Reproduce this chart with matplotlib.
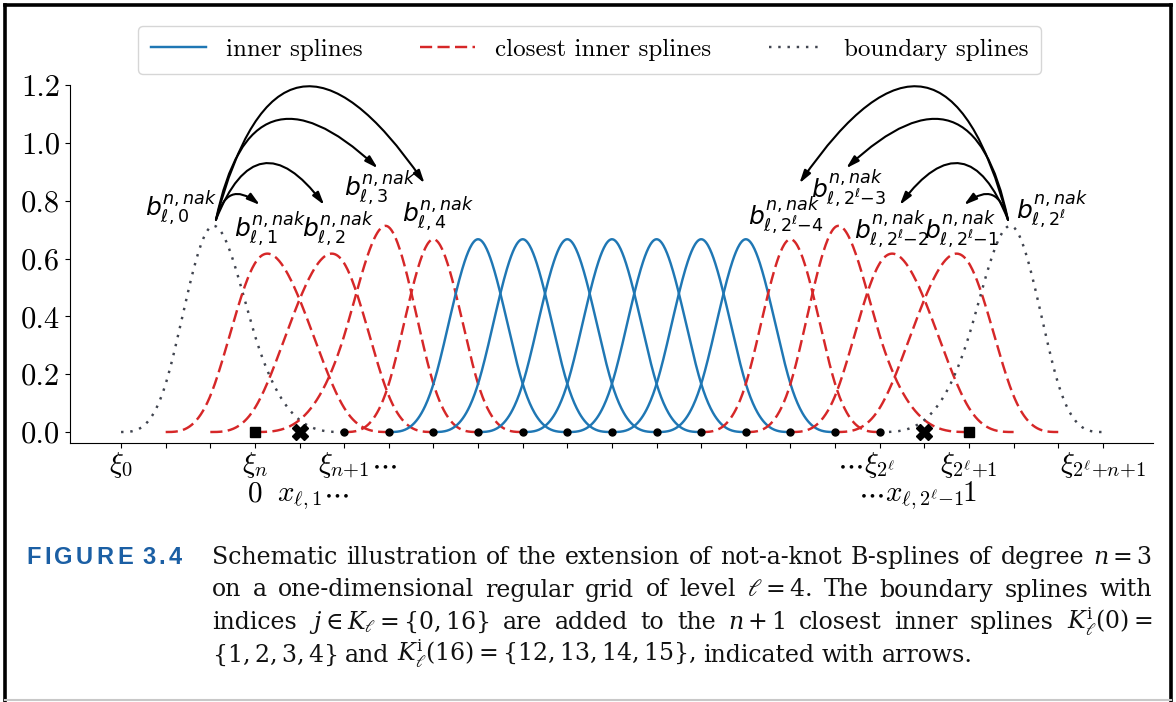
import re
import numpy as np
import matplotlib
matplotlib.use('Agg')
import matplotlib.pyplot as plt
from matplotlib.lines import Line2D

plt.rcParams['font.family'] = ['cmr10', 'DejaVu Serif']
plt.rcParams['mathtext.fontset'] = 'cm'
plt.rcParams['axes.formatter.use_mathtext'] = True
plt.rcParams['axes.unicode_minus'] = False

# ---------------------------------------------------------------- data
degree = 3   # n
level = 4    # l  -> 2**level = 16 intervals, h = 1/16
# not-a-knot knot sequence xi_0 .. xi_20 in multiples of h
knot_idx = [-3, -2, -1, 0, 2, 3, 4, 5, 6, 7, 8, 9, 10, 11, 12, 13, 14, 16, 17, 18, 19]
boundary_idx = [0, 16]
closest_idx = [1, 2, 3, 4, 12, 13, 14, 15]
inner_idx = [5, 6, 7, 8, 9, 10, 11]

# grid points marked on the axis (multiples of h)
dot_points = [2, 3, 4, 5, 6, 7, 8, 9, 10, 11, 12, 13, 14]
square_points = [0, 16]
cross_points = [1, 15]
tick_idx = list(range(-3, 20))

ytick_vals = [0.0, 0.2, 0.4, 0.6, 0.8, 1.0, 1.2]
ytick_labels = ['0.0', '0.2', '0.4', '0.6', '0.8', '1.0', '1.2']

# x-axis labels: grid index, text, row (0 = knots, 1 = grid points), where the dots go
xlabel_idx = [-3, 0, 2, 14, 16, 19, 0, 1, 15, 16]
xlabel_text = [r'$\xi_0$', r'$\xi_n$', r'$\xi_{n{+}1}$', r'$\xi_{2^\ell}$',
               r'$\xi_{2^\ell{+}1}$', r'$\xi_{2^\ell{+}n{+}1}$',
               r'$0$', r'$x_{\ell,1}$', r'$x_{\ell,2^\ell{-}1}$', r'$1$']
xlabel_row = [0, 0, 0, 0, 0, 0, 1, 1, 1, 1]
xlabel_dots = ['', '', 'right', 'left', '', '', '', 'right', 'left', '']

# spline labels and where they sit
label_idx = [0, 1, 2, 3, 4, 12, 13, 14, 15, 16]
label_text = [r'$b^{n,nak}_{\ell,0}$', r'$b^{n,nak}_{\ell,1}$', r'$b^{n,nak}_{\ell,2}$',
              r'$b^{n,nak}_{\ell,3}$', r'$b^{n,nak}_{\ell,4}$',
              r'$b^{n,nak}_{\ell,2^\ell{-}4}$', r'$b^{n,nak}_{\ell,2^\ell{-}3}$',
              r'$b^{n,nak}_{\ell,2^\ell{-}2}$', r'$b^{n,nak}_{\ell,2^\ell{-}1}$',
              r'$b^{n,nak}_{\ell,2^\ell}$']
label_x = [-0.104, 0.021, 0.116, 0.176, 0.256, 0.744, 0.832, 0.892, 0.990, 1.116]
label_y = [0.772, 0.702, 0.699, 0.844, 0.754, 0.751, 0.844, 0.702, 0.702, 0.772]

# arrows: boundary spline -> closest inner splines
arrow_from = [0, 0, 0, 0, 16, 16, 16, 16]
arrow_to = [1, 2, 3, 4, 15, 14, 13, 12]
arrow_start = [(-0.0546, 0.734)] * 4 + [(1.0546, 0.734)] * 4
arrow_end = [(0.007, 0.785), (0.097, 0.785), (0.172, 0.912), (0.2375, 0.860),
             (0.993, 0.785), (0.903, 0.785), (0.828, 0.912), (0.7625, 0.860)]
arrow_rad = [-0.76, -0.89, -0.89, -1.09, 0.76, 0.89, 0.89, 1.09]

caption_lines = [
    r'Schematic illustration of the extension of not-a-knot B-splines of degree $n=3$',
    r'on a one-dimensional regular grid of level $\ell=4$.  The boundary splines with',
    r'indices $j\in K_\ell=\{0,16\}$ are added to the $n+1$ closest inner splines $K_\ell^{\mathrm{i}}(0)=$',
    r'$\{1,2,3,4\}$ and $K_\ell^{\mathrm{i}}(16)=\{12,13,14,15\}$, indicated with arrows.',
]

BLUE = '#1f77b4'
RED = '#d62728'
GREY = '#40444f'


def bspline(t, x):
    """Cox-de Boor recursion for the B-spline on knots t."""
    B = [((x >= t[i]) & (x < t[i + 1])).astype(float) for i in range(len(t) - 1)]
    for k in range(1, len(t) - 1):
        B = [(x - t[i]) / (t[i + k] - t[i]) * B[i]
             + (t[i + k + 1] - x) / (t[i + k + 1] - t[i + 1]) * B[i + 1]
             for i in range(len(B) - 1)]
    return B[0]


W, H = 1176, 702
fig = plt.figure(figsize=(W / 100, H / 100), dpi=100)
ax = fig.add_axes([70 / W, 1 - 443 / H, (1153 - 70) / W, (443 - 85) / H])
r = fig.canvas.get_renderer()

h = 2.0 ** -level
knots = np.array(knot_idx) * h

styles = {}
for j in inner_idx:
    styles[j] = dict(color=BLUE, lw=1.75, ls='-')
for j in closest_idx:
    styles[j] = dict(color=RED, lw=1.75, ls=(0, (5, 2.2)))
for j in boundary_idx:
    styles[j] = dict(color=GREY, lw=1.75, ls=(0, (1, 2.8)))

for j in sorted(styles):
    t = knots[j:j + degree + 2]
    xx = np.linspace(t[0], t[-1], 300)
    ax.plot(xx, bspline(t, xx), **styles[j])

ax.plot(np.array(dot_points) * h, np.zeros(len(dot_points)), 'o', color='k', ms=5, zorder=5)
ax.plot(np.array(square_points) * h, np.zeros(len(square_points)), 's', color='k', ms=7, zorder=5)
ax.plot(np.array(cross_points) * h, np.zeros(len(cross_points)), 'X', color='k', ms=12, zorder=5)

ax.set_xlim(-0.259, 1.2577)
ax.set_ylim(-0.038, 1.2)
ax.spines['top'].set_visible(False)
ax.spines['right'].set_visible(False)
ax.set_xticks(np.array(tick_idx) * h)
ax.tick_params(axis='x', labelbottom=False)
ax.set_yticks(ytick_vals)
ax.set_yticklabels(ytick_labels, fontsize=22)

# x labels below the axis, dots hang off without shifting the centring
row_offset = [-21.0, -42.0]
for idx, txt, row, dots in zip(xlabel_idx, xlabel_text, xlabel_row, xlabel_dots):
    x = idx * h
    t = ax.annotate(txt, xy=(x, 0), xycoords=('data', 'axes fraction'),
                    xytext=(0, row_offset[row]), textcoords='offset points',
                    ha='center', va='baseline', fontsize=21)
    if dots:
        w = t.get_window_extent(r).width * 72 / fig.dpi
        sign = 1 if dots == 'right' else -1
        ax.annotate(r'$\cdots$', xy=(x, 0), xycoords=('data', 'axes fraction'),
                    xytext=(sign * (w / 2 + 1), row_offset[row]), textcoords='offset points',
                    ha='left' if dots == 'right' else 'right', va='baseline', fontsize=21)

for txt, lx, ly in zip(label_text, label_x, label_y):
    ax.text(lx, ly, txt, ha='center', va='center', fontsize=18,
            math_fontfamily='dejavusans')

for s, e, rad in zip(arrow_start, arrow_end, arrow_rad):
    ax.annotate('', xy=e, xytext=s,
                arrowprops=dict(arrowstyle='-|>,head_length=0.45,head_width=0.13',
                                connectionstyle=f'arc3,rad={rad}', color='k', lw=1.5,
                                shrinkA=0, shrinkB=0, mutation_scale=17))

handles = [Line2D([], [], **styles[inner_idx[0]]),
           Line2D([], [], **styles[closest_idx[0]]),
           Line2D([], [], **styles[boundary_idx[0]])]
fig.legend(handles, ['inner splines', 'closest inner splines', 'boundary splines'],
           loc='upper center', bbox_to_anchor=(589.5 / W, 1 - 26 / H), ncol=3,
           fontsize=18, handlelength=2.2, borderaxespad=0, columnspacing=2.3,
           borderpad=0.5)

# caption ------------------------------------------------------------
cap_kw = dict(fontsize=17, family='DejaVu Serif', math_fontfamily='dejavuserif', color='#111111')


def place_words(line, x0, x1, y, justify=True):
    words = re.findall(r'(?:\$[^$]*\$|[^\s$])+', line)
    texts = [fig.text(0, 1 - y / H, w, ha='left', va='baseline', **cap_kw) for w in words]
    widths = [t.get_window_extent(r).width for t in texts]
    a = fig.text(0, 0, 'n n', **cap_kw)
    b = fig.text(0, 0, 'nn', **cap_kw)
    gap = a.get_window_extent(r).width - b.get_window_extent(r).width
    a.remove()
    b.remove()
    if justify:
        gap = (x1 - x0 - sum(widths)) / (len(words) - 1)
    pos = x0
    for t, w in zip(texts, widths):
        t.set_x(pos / W)
        pos += w + gap


baselines = [564, 596.5, 629, 661.5]
for i, line in enumerate(caption_lines):
    place_words(line, 212, 1152, baselines[i], justify=i < len(caption_lines) - 1)

# "FIGURE 3.4" with letter spacing
fig_kw = dict(fontsize=17, family='Liberation Sans', weight='bold', color='#1b5fa4')
chars = list('FIGURE 3.4')
ctexts = [fig.text(0, 1 - 564 / H, c, ha='left', va='baseline', **fig_kw) for c in chars if c != ' ']
cw = [t.get_window_extent(r).width for t in ctexts]
space_w = 6.0
track = (182 - 26 - sum(cw) - space_w) / (len(ctexts) - 1)
pos = 26
k = 0
for c in chars:
    if c == ' ':
        pos += space_w
        continue
    ctexts[k].set_x(pos / W)
    pos += cw[k] + track
    k += 1

# page frame
fig.add_artist(Line2D([5 / W, 5 / W], [0, 1 - 5 / H], color='k', lw=2.6))
fig.add_artist(Line2D([5 / W, 1171 / W], [1 - 5 / H, 1 - 5 / H], color='k', lw=2.6))
fig.add_artist(Line2D([1171 / W, 1171 / W], [1 - 5 / H, 0], color='k', lw=2.6))
fig.add_artist(Line2D([5 / W, 1171 / W], [1 - 700 / H, 1 - 700 / H], color='#c8c8c8', lw=1.5))

fig.savefig('out.png', dpi=100)
